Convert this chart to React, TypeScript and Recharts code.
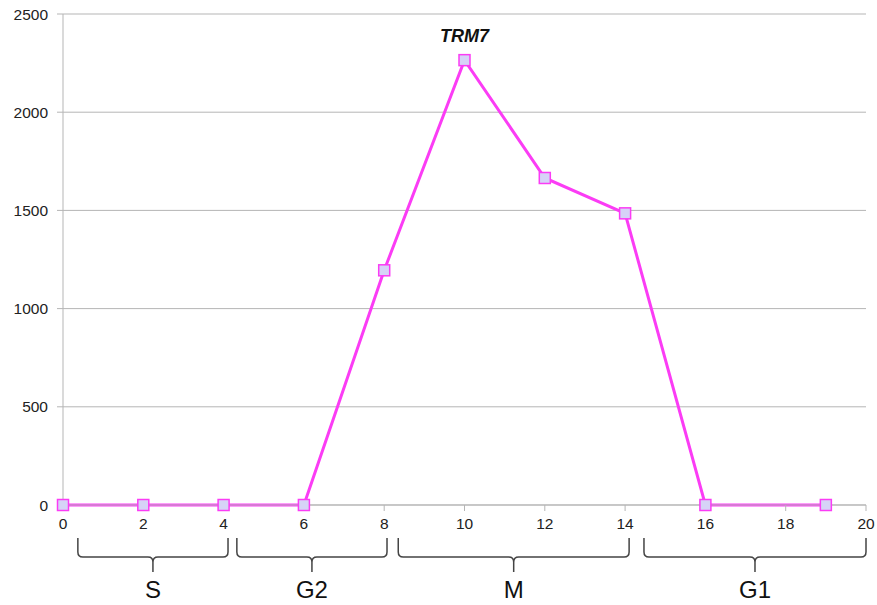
import { LineChart, Line, XAxis, YAxis, CartesianGrid, ReferenceArea, ReferenceDot } from 'recharts';

const times = [0, 2, 4, 6, 8, 10, 12, 14, 16, 19];
const trm7 = [0, 0, 0, 0, 1195, 2265, 1665, 1485, 0, 0];
const xTicks = [0, 2, 4, 6, 8, 10, 12, 14, 16, 18, 20];
const yTicks = [0, 500, 1000, 1500, 2000, 2500];

const phaseNames = ['S', 'G2', 'M', 'G1'];
const phaseStart = [0.37, 4.33, 8.35, 14.47];
const phaseEnd = [4.11, 8.07, 14.1, 20];

const data = times.map((t, i) => ({ t, v: trm7[i] }));

const MAGENTA = '#fb3cf5';
const FONT = '"Liberation Sans", Arial, Helvetica, sans-serif';

function SquareDot({ cx, cy }: { cx?: number; cy?: number }) {
  if (cx == null || cy == null) return null;
  return <rect x={cx - 5.5} y={cy - 5.5} width={11} height={11} fill="#d6d3f7" stroke={MAGENTA} strokeWidth={1.5} />;
}

function makeBrace(name: string) {
  return (props: any) => {
    const { x, y, width, height } = props;
    const x0 = x;
    const x1 = x + width;
    const mid = x + width / 2;
    const top = y;
    const bot = y + height;
    const r = 5;
    const tip = bot + 15;
    const d = `M${x0},${top} L${x0},${bot - r} Q${x0},${bot} ${x0 + r},${bot} L${mid - r},${bot} Q${mid},${bot} ${mid},${bot + r} L${mid},${tip}` +
      ` M${x1},${top} L${x1},${bot - r} Q${x1},${bot} ${x1 - r},${bot} L${mid + r},${bot} Q${mid},${bot} ${mid},${bot + r}`;
    return (
      <g>
        <path d={d} fill="none" stroke="#444" strokeWidth={1.5} />
        <text x={mid} y={bot + 41} textAnchor="middle" fontSize={24} fill="#111" fontFamily={FONT}>{name}</text>
      </g>
    );
  };
}

export default function App() {
  return (
    <div style={{ position: 'absolute', left: 0, top: 0, width: 877, height: 605, background: '#fff' }}>
      <LineChart width={877} height={605} data={data} margin={{ top: 14, right: 11, bottom: 70, left: 0 }}>
        <CartesianGrid vertical={false} stroke="#b5b5b5" strokeWidth={1} />
        <XAxis
          dataKey="t"
          type="number"
          domain={[0, 20]}
          ticks={xTicks}
          interval={0}
          height={30}
          axisLine={{ stroke: '#b5b5b5' }}
          tickLine={{ stroke: '#b5b5b5' }}
          tickSize={6}
          tickMargin={7}
          tick={{ fontSize: 15.5, fill: '#222', fontFamily: FONT }}
        />
        <YAxis
          type="number"
          domain={[0, 2500]}
          ticks={yTicks}
          interval={0}
          width={63}
          axisLine={{ stroke: '#b5b5b5' }}
          tickLine={{ stroke: '#b5b5b5' }}
          tickSize={6}
          tickMargin={9}
          tick={{ fontSize: 15.5, fill: '#222', fontFamily: FONT }}
        />
        {phaseNames.map((n, i) => (
          <ReferenceArea
            key={n}
            x1={phaseStart[i]}
            x2={phaseEnd[i]}
            y1={-168}
            y2={-265}
            ifOverflow="visible"
            shape={makeBrace(n)}
          />
        ))}
        <Line
          dataKey="v"
          stroke={MAGENTA}
          strokeWidth={3}
          dot={<SquareDot />}
          activeDot={false}
          isAnimationActive={false}
        />
        <ReferenceDot
          x={10}
          y={2265}
          r={0}
          fill="none"
          stroke="none"
          label={{ value: 'TRM7', position: 'top', offset: 18, fontSize: 18, fontWeight: 'bold', fontStyle: 'italic', fill: '#111', fontFamily: FONT }}
        />
      </LineChart>
    </div>
  );
}
